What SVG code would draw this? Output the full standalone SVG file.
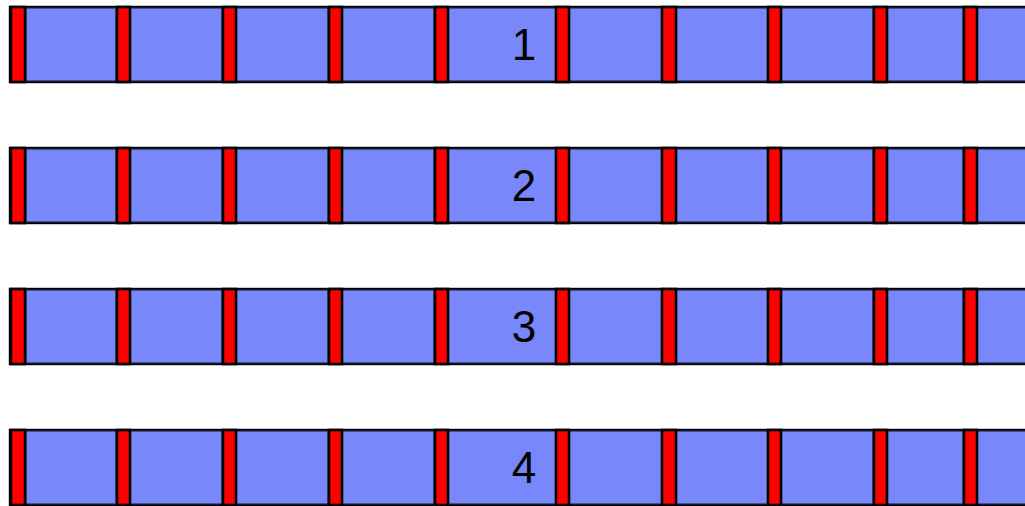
<svg xmlns="http://www.w3.org/2000/svg" xmlns:xlink="http://www.w3.org/1999/xlink" width="1025" height="506" viewBox="0 0 1025 506">
  <style>
    .row { fill: #7888fa; stroke: #000; stroke-width: 2.4; }
    .cell { fill: #7888fa; stroke: #23284a; stroke-width: 1.2; }
    .bar { fill: #ff0000; stroke: #000; stroke-width: 2.6; }
    .lbl { font-family: "Liberation Sans", Arial, sans-serif; font-size: 44px; fill: #000; text-anchor: middle; }
  </style>
  <defs>
    <g id="strip">
      <rect class="row" x="10" y="0" width="1030" height="75"/>
      <rect class="cell" x="26" y="1" width="90" height="73"/>
      <rect class="cell" x="130" y="1" width="92" height="73"/>
      <rect class="cell" x="236" y="1" width="92" height="73"/>
      <rect class="cell" x="342" y="1" width="92" height="73"/>
      <rect class="cell" x="448" y="1" width="108" height="73"/>
      <rect class="cell" x="569" y="1" width="93" height="73"/>
      <rect class="cell" x="676" y="1" width="92" height="73"/>
      <rect class="cell" x="781" y="1" width="92" height="73"/>
      <rect class="cell" x="887" y="1" width="76" height="73"/>
      <rect class="cell" x="977" y="1" width="60" height="73"/>
      <rect class="bar" x="11" y="0" width="14" height="75"/>
      <rect class="bar" x="117" y="0" width="13" height="75"/>
      <rect class="bar" x="223" y="0" width="13" height="75"/>
      <rect class="bar" x="329" y="0" width="13" height="75"/>
      <rect class="bar" x="435" y="0" width="13" height="75"/>
      <rect class="bar" x="556" y="0" width="13" height="75"/>
      <rect class="bar" x="662" y="0" width="14" height="75"/>
      <rect class="bar" x="768" y="0" width="13" height="75"/>
      <rect class="bar" x="874" y="0" width="13" height="75"/>
      <rect class="bar" x="964" y="0" width="13" height="75"/>
    </g>
  </defs>
  <g id="row1">
    <use xlink:href="#strip" href="#strip" x="0" y="7"/>
    <text class="lbl" x="524" y="60">1</text>
  </g>
  <g id="row2">
    <use xlink:href="#strip" href="#strip" x="0" y="148"/>
    <text class="lbl" x="524" y="201">2</text>
  </g>
  <g id="row3">
    <use xlink:href="#strip" href="#strip" x="0" y="289"/>
    <text class="lbl" x="524" y="342">3</text>
  </g>
  <g id="row4">
    <use xlink:href="#strip" href="#strip" x="0" y="430"/>
    <text class="lbl" x="524" y="483">4</text>
  </g>
  <g id="connectors"/>
</svg>
